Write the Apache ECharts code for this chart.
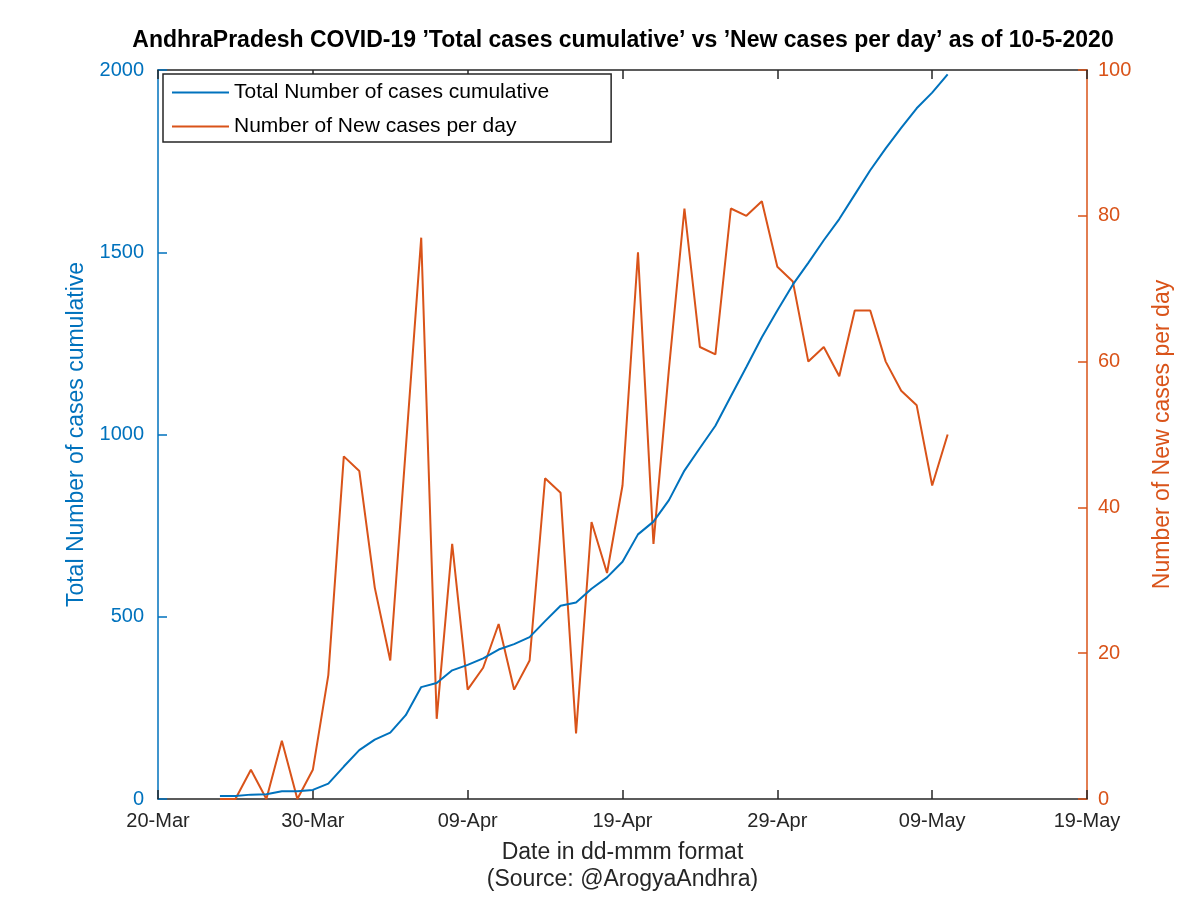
<!DOCTYPE html>
<html>
<head>
<meta charset="utf-8">
<script src="https://cdn.jsdelivr.net/npm/echarts@6/dist/echarts.min.js"></script>
<style>
html,body{margin:0;padding:0;background:#fff;}
#chart{width:1200px;height:898px;}
</style>
</head>
<body>
<div id="chart"></div>
<script>
// ---- data ----
const startDate = '2020-03-20';
const dates = [
  '2020-03-24','2020-03-25','2020-03-26','2020-03-27','2020-03-28','2020-03-29','2020-03-30','2020-03-31',
  '2020-04-01','2020-04-02','2020-04-03','2020-04-04','2020-04-05','2020-04-06','2020-04-07','2020-04-08',
  '2020-04-09','2020-04-10','2020-04-11','2020-04-12','2020-04-13','2020-04-14','2020-04-15','2020-04-16',
  '2020-04-17','2020-04-18','2020-04-19','2020-04-20','2020-04-21','2020-04-22','2020-04-23','2020-04-24',
  '2020-04-25','2020-04-26','2020-04-27','2020-04-28','2020-04-29','2020-04-30','2020-05-01','2020-05-02',
  '2020-05-03','2020-05-04','2020-05-05','2020-05-06','2020-05-07','2020-05-08','2020-05-09','2020-05-10'
];
const totalCases = [
  8, 8, 12, 13, 21, 21, 25, 42,
  89, 134, 163, 182, 230, 307, 318, 353,
  368, 386, 410, 425, 444, 488, 530, 539,
  577, 608, 651, 726, 761, 820, 901, 963,
  1024, 1105, 1185, 1267, 1340, 1411, 1471, 1533,
  1591, 1658, 1725, 1785, 1841, 1895, 1938, 1988
];
const newCases = [
  0, 0, 4, 0, 8, 0, 4, 17,
  47, 45, 29, 19, 48, 77, 11, 35,
  15, 18, 24, 15, 19, 44, 42, 9,
  38, 31, 43, 75, 35, 59, 81, 62,
  61, 81, 80, 82, 73, 71, 60, 62,
  58, 67, 67, 60, 56, 54, 43, 50
];
const xTickLabels = ['20-Mar','30-Mar','09-Apr','19-Apr','29-Apr','09-May','19-May'];
const seriesNames = ['Total Number of cases cumulative','Number of New cases per day'];

// ---- helpers ----
function dayOffset(s) {
  const p = s.split('-').map(Number);
  const q = startDate.split('-').map(Number);
  return Math.round((Date.UTC(p[0], p[1]-1, p[2]) - Date.UTC(q[0], q[1]-1, q[2])) / 86400000);
}
const totalData = dates.map((d, i) => [dayOffset(d), totalCases[i]]);
const newData = dates.map((d, i) => [dayOffset(d), newCases[i]]);

const BLUE = '#0072BD';
const ORANGE = '#D95319';
const DARK = '#262626';
const FONT = '"Liberation Sans", Arial, Helvetica, sans-serif';

const chart = echarts.init(document.getElementById('chart'), null, {renderer: 'canvas'});
chart.setOption({
  animation: false,
  backgroundColor: '#ffffff',
  textStyle: {fontFamily: FONT},
  title: {
    text: "AndhraPradesh COVID-19 \u2019Total cases cumulative\u2019 vs \u2019New cases per day\u2019 as of 10-5-2020",
    left: 623,
    top: 29,
    textAlign: 'center',
    padding: 0,
    textStyle: {fontFamily: FONT, fontSize: 23, fontWeight: 'bold', color: '#000'}
  },
  legend: {
    left: 163,
    top: 74,
    orient: 'vertical',
    data: seriesNames,
    icon: 'rect',
    itemWidth: 57,
    itemHeight: 2,
    itemGap: 13,
    padding: [8, 62, 5, 9],
    backgroundColor: '#fff',
    borderColor: DARK,
    borderWidth: 1.5,
    textStyle: {fontFamily: FONT, fontSize: 21, color: '#000'}
  },
  grid: {left: 158, right: 113, top: 70, bottom: 97, containLabel: false},
  xAxis: [
    {
      type: 'value',
      min: 0, max: 60, interval: 10,
      position: 'bottom',
      name: 'Date in dd-mmm format\n(Source: @ArogyaAndhra)',
      nameLocation: 'middle',
      nameGap: 40,
      nameTextStyle: {fontFamily: FONT, fontSize: 23, color: DARK, lineHeight: 27},
      axisLine: {show: true, onZero: false, lineStyle: {color: DARK, width: 1.5}},
      axisTick: {show: true, inside: true, length: 9, lineStyle: {color: DARK, width: 1.5}},
      axisLabel: {margin: 12, fontFamily: FONT, fontSize: 20, color: DARK,
        formatter: v => xTickLabels[Math.round(v / 10)]},
      splitLine: {show: false}
    },
    {
      type: 'value',
      min: 0, max: 60, interval: 10,
      position: 'top',
      axisLine: {show: true, onZero: false, lineStyle: {color: DARK, width: 1.5}},
      axisTick: {show: true, inside: true, length: 9, lineStyle: {color: DARK, width: 1.5}},
      axisLabel: {show: false},
      splitLine: {show: false}
    }
  ],
  yAxis: [
    {
      type: 'value',
      min: 0, max: 2000, interval: 500,
      position: 'left',
      name: 'Total Number of cases cumulative',
      nameLocation: 'middle',
      nameGap: 58,
      nameTextStyle: {fontFamily: FONT, fontSize: 23, color: BLUE},
      axisLine: {show: true, onZero: false, lineStyle: {color: BLUE, width: 1.5}},
      axisTick: {show: true, inside: true, length: 9, lineStyle: {color: BLUE, width: 1.5}},
      axisLabel: {margin: 14, fontFamily: FONT, fontSize: 20, color: BLUE,
        formatter: v => String(v)},
      splitLine: {show: false}
    },
    {
      type: 'value',
      min: 0, max: 100, interval: 20,
      position: 'right',
      name: 'Number of New cases per day',
      nameLocation: 'middle',
      nameGap: 64,
      nameTextStyle: {fontFamily: FONT, fontSize: 23, color: ORANGE},
      axisLine: {show: true, onZero: false, lineStyle: {color: ORANGE, width: 1.5}},
      axisTick: {show: true, inside: true, length: 9, lineStyle: {color: ORANGE, width: 1.5}},
      axisLabel: {margin: 11, fontFamily: FONT, fontSize: 20, color: ORANGE,
        formatter: v => String(v)},
      splitLine: {show: false}
    }
  ],
  series: [
    {
      name: seriesNames[0],
      type: 'line',
      xAxisIndex: 0,
      yAxisIndex: 0,
      data: totalData,
      showSymbol: false,
      symbol: 'none',
      lineStyle: {color: BLUE, width: 2},
      itemStyle: {color: BLUE},
      z: 3
    },
    {
      name: seriesNames[1],
      type: 'line',
      xAxisIndex: 0,
      yAxisIndex: 1,
      data: newData,
      showSymbol: false,
      symbol: 'none',
      lineStyle: {color: ORANGE, width: 2},
      itemStyle: {color: ORANGE},
      z: 2
    }
  ]
});
</script>
</body>
</html>
